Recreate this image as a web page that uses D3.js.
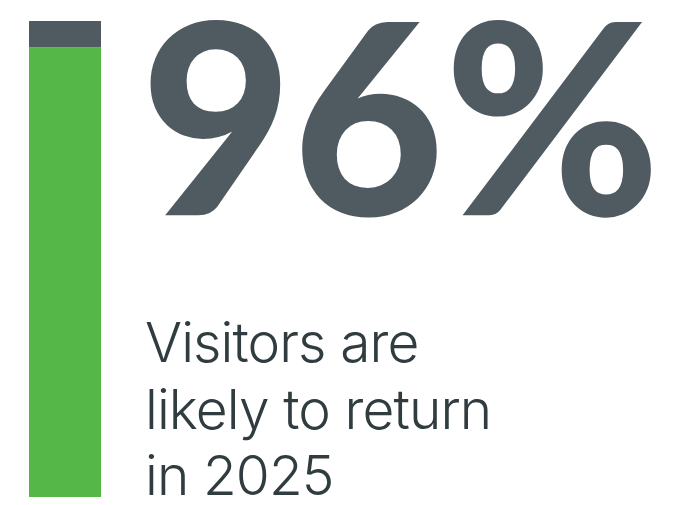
<!DOCTYPE html>
<html><head><meta charset="utf-8">
<script src="https://cdn.jsdelivr.net/npm/d3@7/dist/d3.min.js"></script>
<style>html,body{margin:0;padding:0;background:#fff;}svg{display:block;}</style>
</head><body>
<svg id="c" width="692" height="505"></svg>
<script>
// Data
const categories = ["Likely to return", "Not likely"];
const values = [94.5, 5.5];
const colors = ["#55b748", "#4f5a61"];
const headline = "96%";
const captionLines = ["Visitors are", "likely to return", "in 2025"];

const svg = d3.select("#c");
const y = d3.scaleLinear().domain([0, 100]).range([497, 21]);
const x = d3.scaleBand().domain(["bar"]).range([29, 101]).padding(0);

let acc = 0;
const segs = categories.map((c, i) => { const s = {c, y0: acc, y1: acc + values[i], color: colors[i]}; acc += values[i]; return s; });
svg.selectAll("rect.seg").data(segs).join("rect")
  .attr("class", "seg")
  .attr("x", x("bar")).attr("width", x.bandwidth())
  .attr("y", d => y(d.y1)).attr("height", d => y(d.y0) - y(d.y1))
  .attr("fill", d => d.color);

// Measure ink extents with canvas, fit headline to its box
const cv = document.createElement("canvas").getContext("2d");
function fitText(text, font, weight, box, fill) {
  const fs = 200;
  cv.font = `${weight} ${fs}px ${font}`;
  const m = cv.measureText(text);
  const inkW = m.actualBoundingBoxLeft + m.actualBoundingBoxRight;
  const inkH = m.actualBoundingBoxAscent + m.actualBoundingBoxDescent;
  const sx = (box.x1 - box.x0) / inkW;
  const sy = (box.y1 - box.y0) / inkH;
  const tx = box.x0 + m.actualBoundingBoxLeft * sx;
  const ty = box.y0 + m.actualBoundingBoxAscent * sy;
  svg.append("text")
    .attr("transform", `translate(${tx},${ty}) scale(${sx / sy},1)`)
    .attr("font-family", font).attr("font-weight", weight)
    .attr("font-size", fs * sy).attr("fill", fill).text(text);
}
fitText(headline, "Lato", 900, {x0: 150, x1: 652, y0: 19.5, y1: 218}, "#4f5a61");

// Caption
const baselines = [362, 428.5, 495];
svg.selectAll("text.cap").data(captionLines).join("text")
  .attr("class", "cap")
  .attr("x", 145).attr("y", (d, i) => baselines[i])
  .attr("font-family", "Inter").attr("font-weight", 300)
  .attr("font-size", 55).attr("letter-spacing", -0.9).attr("fill", "#303c3f")
  .text(d => d);
</script>
</body></html>
